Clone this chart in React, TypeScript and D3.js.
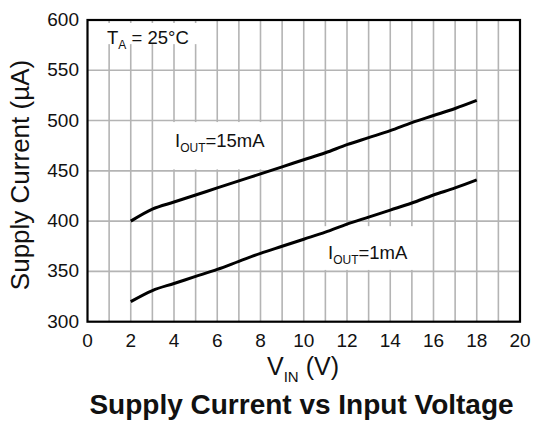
import React from "react";
import * as d3 from "d3";

const vin = [2, 3, 4, 5, 6, 7, 8, 9, 10, 11, 12, 13, 14, 15, 16, 17, 18];
const iout15mA = [400, 412, 419, 426, 433, 440, 447, 454, 461, 468, 476, 483, 490, 498, 505, 512, 520];
const iout1mA = [320, 331, 338, 345, 352, 360, 368, 375, 382, 389, 397, 404, 411, 418, 426, 433, 441];
const xTicks = [0, 2, 4, 6, 8, 10, 12, 14, 16, 18, 20];
const yTicks = [300, 350, 400, 450, 500, 550, 600];
const xGrid = d3.range(1, 20);
const yGrid = [350, 400, 450, 500, 550];

const FONT = "Liberation Sans, Arial, Helvetica, sans-serif";

export default function App() {
  const W = 534, H = 423;
  const left = 87.5, right = 520, top = 20, bottom = 321.7;
  const x = d3.scaleLinear().domain([0, 20]).range([left, right]);
  const y = d3.scaleLinear().domain([300, 600]).range([bottom, top]);
  const line = d3.line<number>().x((_, i) => x(vin[i])).y((d) => y(d)).curve(d3.curveMonotoneX);

  return (
    <svg width={W} height={H} style={{ position: "absolute", left: 0, top: 0, background: "#fff" }} fontFamily={FONT}>
      <rect x={0} y={0} width={W} height={H} fill="#fff" />
      {xGrid.map((v) => (
        <line key={"vx" + v} x1={x(v)} x2={x(v)} y1={top} y2={bottom} stroke="#b4b4b4" strokeWidth={1.6} />
      ))}
      {yGrid.map((v) => (
        <line key={"hy" + v} x1={left} x2={right} y1={y(v)} y2={y(v)} stroke="#b4b4b4" strokeWidth={1.6} />
      ))}
      {/* white label backgrounds */}
      <rect x={x(0) + 1} y={top + 3} width={x(5.4) - x(0)} height={y(575) - top - 4} fill="#fff" />
      <rect x={x(3.8)} y={y(500) + 1.5} width={x(8.6) - x(3.8)} height={y(450) - y(500) - 3} fill="#fff" />
      <rect x={x(10.8)} y={y(395)} width={x(15.5) - x(10.8)} height={y(350) - y(395) - 1.5} fill="#fff" />

      <rect x={left} y={top} width={right - left} height={bottom - top} fill="none" stroke="#000" strokeWidth={2.2} />

      <path d={line(iout15mA) || ""} fill="none" stroke="#000" strokeWidth={3} />
      <path d={line(iout1mA) || ""} fill="none" stroke="#000" strokeWidth={3} />

      {xTicks.map((v) => (
        <text key={"xt" + v} x={x(v)} y={347} fontSize={19} textAnchor="middle" fill="#111">{v}</text>
      ))}
      {yTicks.map((v) => (
        <text key={"yt" + v} x={79} y={y(v) + 6} fontSize={19} textAnchor="end" fill="#111">{v}</text>
      ))}

      <text x={107} y={44} fontSize={18.5} fill="#111">
        T<tspan fontSize={12} dy={5}>A</tspan><tspan dy={-5}> = 25°C</tspan>
      </text>
      <text x={175} y={147} fontSize={18.5} fill="#111">
        I<tspan fontSize={12} dy={5}>OUT</tspan><tspan dy={-5}>=15mA</tspan>
      </text>
      <text x={328} y={259} fontSize={18.5} fill="#111">
        I<tspan fontSize={12} dy={5}>OUT</tspan><tspan dy={-5}>=1mA</tspan>
      </text>

      <text x={303} y={375} fontSize={25} textAnchor="middle" fill="#111">
        V<tspan fontSize={15} dy={7}>IN</tspan><tspan dy={-7}> (V)</tspan>
      </text>
      <text transform={`translate(29, 175) rotate(-90)`} fontSize={26} textAnchor="middle" fill="#111">
        Supply Current (µA)
      </text>
      <text x={301.5} y={414} fontSize={28} fontWeight="bold" textAnchor="middle" fill="#111">
        Supply Current vs Input Voltage
      </text>
    </svg>
  );
}
